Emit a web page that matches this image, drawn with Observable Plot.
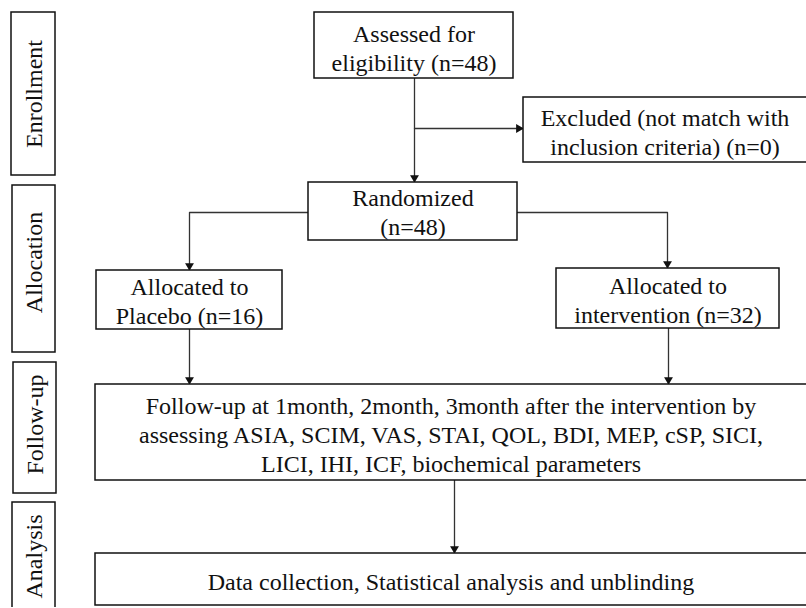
<!DOCTYPE html>
<html><head><meta charset="utf-8">
<script src="https://cdn.jsdelivr.net/npm/d3@7"></script>
<script src="https://cdn.jsdelivr.net/npm/@observablehq/plot@0.6"></script>
<style>html,body{margin:0;padding:0;background:#fff;}</style>
</head><body><div id="chart"></div>
<script>
// Stage labels (left column)
const stageLabels = ["Enrollment", "Allocation", "Follow-up", "Analysis"];
// Flow node texts
const nodeLabels = [
  "Assessed for\neligibility (n=48)",
  "Excluded (not match with\ninclusion criteria) (n=0)",
  "Randomized\n(n=48)",
  "Allocated to\nPlacebo (n=16)",
  "Allocated to\nintervention (n=32)",
  "Follow-up at 1month, 2month, 3month after the intervention by\nassessing ASIA, SCIM, VAS, STAI, QOL, BDI, MEP, cSP, SICI,\nLICI, IHI, ICF, biochemical parameters",
  "Data collection, Statistical analysis and unblinding"
];
// Counts shown in the nodes
const counts = {assessed: 48, excluded: 0, randomized: 48, placebo: 16, intervention: 32};

// Layout (diagram geometry, pixels)
const stageLayout = [
  {x1: 11, x2: 55, y1: 12, y2: 175, ty: 93.5},
  {x1: 12, x2: 55, y1: 185, y2: 352, ty: 262},
  {x1: 13, x2: 56, y1: 362, y2: 493, ty: 424},
  {x1: 12, x2: 55, y1: 502, y2: 615, ty: 556}
];
const nodeLayout = [
  {x1: 314, x2: 513, y1: 12, y2: 78, ty: 46.5},
  {x1: 523, x2: 810, y1: 97, y2: 162, ty: 131},
  {x1: 308, x2: 517, y1: 182, y2: 240, ty: 211},
  {x1: 96, x2: 282, y1: 270, y2: 329, ty: 300},
  {x1: 556, x2: 779, y1: 268, y2: 328, ty: 299},
  {x1: 95, x2: 810, y1: 384, y2: 480, ty: 433},
  {x1: 95, x2: 810, y1: 553, y2: 605, ty: 580}
];
// Connectors: polylines, last point carries an arrow head
const connectors = [
  {id: "a", pts: [[414, 78], [414, 182]], dir: "down"},
  {id: "b", pts: [[414, 128], [523, 128]], dir: "right"},
  {id: "c", pts: [[308, 212], [189, 212], [189, 270]], dir: "down"},
  {id: "d", pts: [[517, 212], [667, 212], [667, 268]], dir: "down"},
  {id: "e", pts: [[189, 329], [189, 384]], dir: "down"},
  {id: "f", pts: [[668, 328], [668, 384]], dir: "down"},
  {id: "g", pts: [[454, 480], [454, 553]], dir: "down"}
];

const stages = stageLabels.map((label, i) => ({label, ...stageLayout[i]}));
const nodes = nodeLabels.map((label, i) => ({label, ...nodeLayout[i]}));
const linePts = connectors.flatMap(c => c.pts.map(([x, y]) => ({id: c.id, x, y})));
const tips = connectors.map(c => ({x: c.pts[c.pts.length - 1][0], y: c.pts[c.pts.length - 1][1], dir: c.dir}));

const serif = "Times New Roman";
const chart = Plot.plot({
  width: 806,
  height: 607,
  margin: 0,
  x: {domain: [0, 806], range: [0, 806], axis: null},
  y: {domain: [0, 608], range: [0, 608], axis: null},
  marks: [
    Plot.line(linePts, {x: "x", y: "y", z: "id", stroke: "#333", strokeWidth: 1.3, curve: "linear"}),
    Plot.dot(tips.filter(d => d.dir === "down"), {x: "x", y: "y", symbol: "triangle", r: 3.3, rotate: 180, dy: -4.8, fill: "#111", stroke: "none"}),
    Plot.dot(tips.filter(d => d.dir === "right"), {x: "x", y: "y", symbol: "triangle", r: 3.3, rotate: 90, dx: -4.8, fill: "#111", stroke: "none"}),
    Plot.rect(stages, {x1: "x1", x2: "x2", y1: "y1", y2: "y2", fill: "none", stroke: "#111", strokeWidth: 1.5}),
    Plot.rect(nodes, {x1: "x1", x2: "x2", y1: "y1", y2: "y2", fill: "#fff", stroke: "#111", strokeWidth: 1.5}),
    Plot.text(stages, {x: d => (d.x1 + d.x2) / 2 + 0.5, y: "ty", text: "label", rotate: -90, fontSize: 24, fill: "#111", fontFamily: serif}),
    Plot.text(nodes, {x: d => (Math.min(d.x2, 806) + d.x1) / 2, y: "ty", text: "label", fontSize: 24, lineHeight: 1.2, fill: "#111", fontFamily: serif})
  ]
});
document.getElementById("chart").appendChild(chart);
</script>
</body></html>
